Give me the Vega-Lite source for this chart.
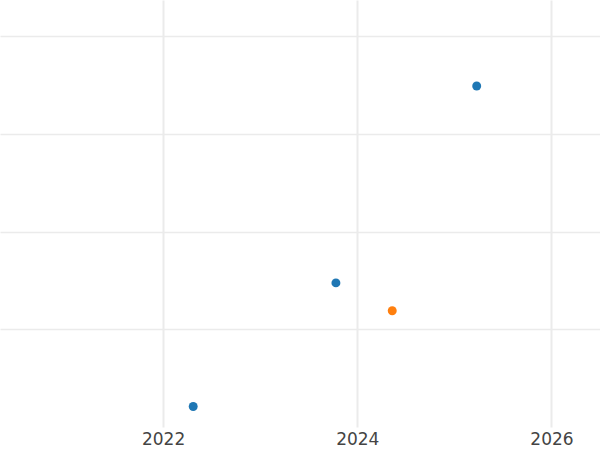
{
  "$schema": "https://vega.github.io/schema/vega-lite/v6.json",
  "width": 600,
  "height": 427,
  "padding": {"left": 0, "top": 0, "right": 0, "bottom": 23},
  "autosize": {"type": "none"},
  "background": "white",
  "config": {"view": {"stroke": null}},
  "data": {"values": [
    {"year": 2025.23, "value": 3.49, "group": "A"},
    {"year": 2023.78, "value": 1.475, "group": "A"},
    {"year": 2024.36, "value": 1.19, "group": "B"},
    {"year": 2022.31, "value": 0.21, "group": "A"}
  ]},
  "mark": {"type": "circle", "size": 80, "opacity": 1},
  "encoding": {
    "x": {"field": "year", "type": "quantitative",
      "scale": {"domain": [2020.32, 2026.5], "nice": false, "zero": false},
      "axis": {"values": [2022, 2024, 2026], "format": "d", "title": null, "domain": false, "ticks": false,
        "labelFontSize": 17, "labelColor": "#444444", "labelPadding": 4, "labelFont": "DejaVu Sans",
        "gridColor": "#ebebeb", "gridWidth": 2}},
    "y": {"field": "value", "type": "quantitative",
      "scale": {"domain": [0, 4.37], "nice": false, "zero": false},
      "axis": {"values": [1, 2, 3, 4], "labels": false, "title": null, "domain": false, "ticks": false,
        "gridColor": "#ebebeb", "gridWidth": 1.5}},
    "color": {"field": "group", "type": "nominal",
      "scale": {"domain": ["A", "B"], "range": ["#1f77b4", "#ff7f0e"]}, "legend": null}
  }
}
